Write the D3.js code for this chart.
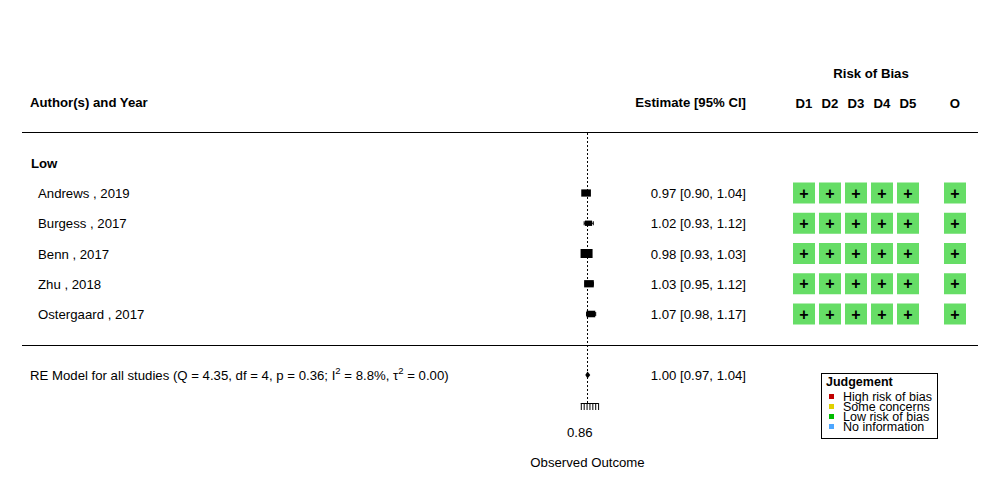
<!DOCTYPE html>
<html><head><meta charset="utf-8">
<script src="https://cdn.jsdelivr.net/npm/d3@7"></script>
<style>body{margin:0;background:#fff}svg{font-family:"Liberation Sans",Arial,sans-serif}</style>
</head><body><svg id="c" width="1000" height="500"></svg>
<script>
const studies = ["Andrews , 2019","Burgess , 2017","Benn , 2017","Zhu , 2018","Ostergaard , 2017"];
const est = [0.97,1.02,0.98,1.03,1.07];
const lo = [0.90,0.93,0.93,0.95,0.98];
const hi = [1.04,1.12,1.03,1.12,1.17];
const weights = [22,12,34,22,18];
const domains = ["D1","D2","D3","D4","D5","O"];
const judgements = [
  ["+","+","+","+","+","+"],
  ["+","+","+","+","+","+"],
  ["+","+","+","+","+","+"],
  ["+","+","+","+","+","+"],
  ["+","+","+","+","+","+"]];
const pooled = {est:1.00, lo:0.97, hi:1.04};
const axisTicks = [0.86,0.92,0.98,1.04,1.10,1.16,1.22];
const legendLabels = ["High risk of bias","Some concerns","Low risk of bias","No information"];
const legendColors = ["#c00000","#e0d000","#00bb00","#4da6ff"];

const FS = 13.2;
const svg = d3.select("#c");
const x = d3.scaleLinear().domain([0.86,1.22]).range([580.8,598.1]);
const rowY = d3.scalePoint().domain(studies).range([193,314]);
const colX = d3.scaleOrdinal().domain(domains).range([804,830,856,882,908,955]);
const sz = d3.scaleSqrt().domain([0,34]).range([0,6]);
const fmt = d3.format(".2f");

// lines
svg.append("line").attr("x1",22).attr("x2",978).attr("y1",132.5).attr("y2",132.5).attr("stroke","#000");
svg.append("line").attr("x1",22).attr("x2",978).attr("y1",345.5).attr("y2",345.5).attr("stroke","#000");
svg.append("line").attr("x1",x(1)).attr("x2",x(1)).attr("y1",133).attr("y2",403)
  .attr("stroke","#000").attr("stroke-dasharray","2,2");

// headers
const bold = (t,xx,yy,anchor)=>svg.append("text").text(t).attr("x",xx).attr("y",yy)
  .attr("font-size",FS).attr("font-weight","bold").attr("text-anchor",anchor||"start");
bold("Author(s) and Year",30,106.5);
bold("Estimate [95% CI]",746,106.5,"end");
bold("Risk of Bias",871,78,"middle");
domains.forEach(d=>bold(d,colX(d),108,"middle"));
bold("Low",31,168);

// rows
studies.forEach((s,i)=>{
  const y = rowY(s);
  svg.append("text").text(s).attr("x",38).attr("y",y+5).attr("font-size",FS);
  svg.append("text").text(fmt(est[i])+" ["+fmt(lo[i])+", "+fmt(hi[i])+"]")
    .attr("x",746).attr("y",y+5).attr("font-size",FS).attr("text-anchor","end");
  svg.append("line").attr("x1",x(lo[i])).attr("x2",x(hi[i])).attr("y1",y).attr("y2",y).attr("stroke","#000");
  [lo[i],hi[i]].forEach(v=>svg.append("line").attr("x1",x(v)).attr("x2",x(v)).attr("y1",y-2).attr("y2",y+2).attr("stroke","#000"));
  const h = sz(weights[i]);
  svg.append("rect").attr("x",x(est[i])-h).attr("y",y-h*0.75).attr("width",2*h).attr("height",1.5*h).attr("fill","#000");
  domains.forEach((d,j)=>{
    const cx = colX(d);
    svg.append("rect").attr("x",cx-11).attr("y",y-10.5).attr("width",22).attr("height",21).attr("fill","#66dd66");
    svg.append("text").text(judgements[i][j]).attr("x",cx).attr("y",y+5.5).attr("font-size",16)
      .attr("font-weight","bold").attr("text-anchor","middle");
  });
});

// pooled
const py = 375;
const rt = svg.append("text").attr("x",30).attr("y",py+5).attr("font-size",FS);
rt.append("tspan").text("RE Model for all studies (Q = 4.35, df = 4, p = 0.36; I");
rt.append("tspan").text("2").attr("font-size",9.5).attr("dy",-6);
rt.append("tspan").text(" = 8.8%, \u03c4").attr("dy",6);
rt.append("tspan").text("2").attr("font-size",9.5).attr("dy",-6);
rt.append("tspan").text(" = 0.00)").attr("dy",6);
svg.append("path").attr("d",`M${x(pooled.lo)-0.8},${py}L${x(pooled.est)},${py-3.5}L${x(pooled.hi)+0.8},${py}L${x(pooled.est)},${py+3.5}Z`).attr("fill","#000");
svg.append("text").text(fmt(pooled.est)+" ["+fmt(pooled.lo)+", "+fmt(pooled.hi)+"]")
  .attr("x",746).attr("y",py+5).attr("font-size",FS).attr("text-anchor","end");

// axis
const ax = svg.append("g").attr("transform","translate(0,403)")
  .call(d3.axisBottom(x).tickValues(axisTicks).tickSize(7).tickFormat(""));
ax.select(".domain").attr("d",`M${x(0.86)},0.5H${x(1.22)}`);
svg.append("text").text("0.86").attr("x",x(0.86)-1).attr("y",437).attr("font-size",FS).attr("text-anchor","middle");
svg.append("text").text("Observed Outcome").attr("x",587.5).attr("y",466.5).attr("font-size",FS).attr("text-anchor","middle");

// legend
svg.append("rect").attr("x",821.5).attr("y",373.5).attr("width",116).attr("height",65).attr("fill","#fff").attr("stroke","#000");
svg.append("text").text("Judgement").attr("x",826).attr("y",386).attr("font-size",12.5).attr("font-weight","bold");
legendLabels.forEach((l,i)=>{
  const ly = 397+i*10;
  svg.append("rect").attr("x",829).attr("y",ly-3).attr("width",5).attr("height",5).attr("fill",legendColors[i]);
  svg.append("text").text(l).attr("x",843).attr("y",ly+4).attr("font-size",12.5);
});
</script></body></html>
